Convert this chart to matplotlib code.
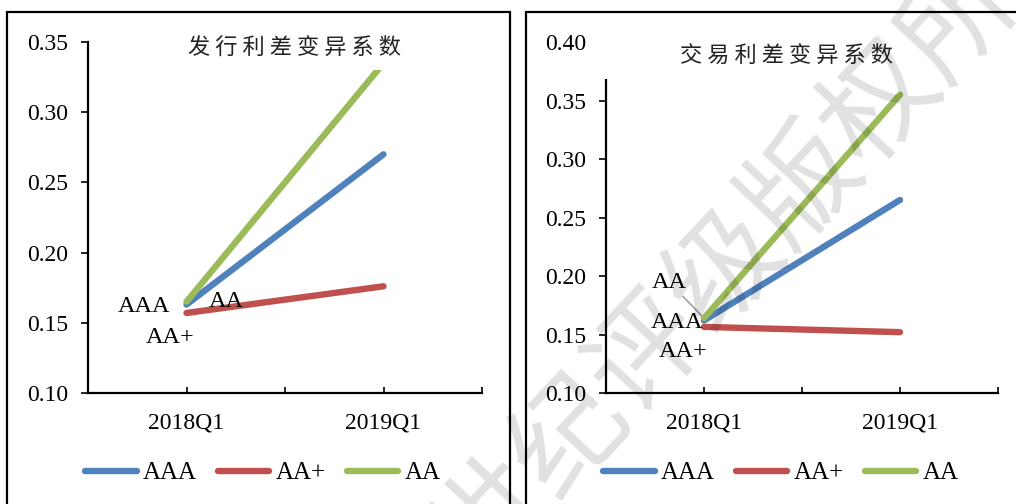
import numpy as np
import matplotlib
matplotlib.use("Agg")
from matplotlib import pyplot as plt
from matplotlib.patches import Rectangle

plt.rcParams["font.family"] = ["Liberation Serif", "Noto Sans CJK SC"]

# data
periods = ["2018Q1", "2019Q1"]
series = ["AAA", "AA+", "AA"]
issue_aaa = [0.163, 0.270]
issue_aaplus = [0.157, 0.176]
issue_aa = [0.165, 0.335]
trade_aaa = [0.162, 0.265]
trade_aaplus = [0.1565, 0.152]
trade_aa = [0.164, 0.355]

colors = ["#4F81BD", "#C0504D", "#9BBB59"]
W, H = 1016, 504


def fx(px):
    return px / W


def fy(py):
    return 1 - py / H


fig = plt.figure(figsize=(W / 100, H / 100), dpi=100)

# panel borders
for x0, x1 in [(7, 510), (526, 1030)]:
    fig.patches.append(Rectangle((fx(x0), fy(520)), fx(x1 - x0), (520 - 12) / H,
                                 transform=fig.transFigure, fill=False,
                                 edgecolor="black", linewidth=1.6, zorder=0))


def draw_panel(left_px, right_px, ymax, values, title, title_xy, box, labels, legend_x):
    ax = fig.add_axes([fx(left_px), fy(393), fx(right_px - left_px), (393 - 42) / H])
    xpos = [1, 3]
    for v, c, name in zip(values, colors, series):
        ax.plot(xpos, v, color=c, lw=4.6, solid_capstyle="round", label=name, zorder=3)
    ax.set_xlim(0, 4)
    ax.set_ylim(0.10, ymax)
    ax.set_yticks(np.arange(0.10, ymax + 0.001, 0.05))
    ax.yaxis.set_major_formatter(matplotlib.ticker.FormatStrFormatter("%.2f"))
    ax.set_xticks([1, 2, 3, 4])
    ax.set_xticklabels([periods[0], "", periods[1], ""])
    for s in ["top", "right"]:
        ax.spines[s].set_visible(False)
    for s in ["left", "bottom"]:
        ax.spines[s].set_linewidth(1.6)
    ax.tick_params(axis="y", direction="out", length=5, width=1.2, pad=9, labelsize=17)
    ax.tick_params(axis="x", direction="in", length=4, width=1.2, pad=14, labelsize=17)
    ax.patch.set_alpha(0)

    # data labels at the first point
    for (name, idx, dx, dy, ha, lead) in labels:
        kw = {}
        if lead:
            kw["arrowprops"] = dict(arrowstyle="-", color="#a0a0a0", lw=1.2,
                                    shrinkA=1, shrinkB=3)
        ax.annotate(name, xy=(1, values[idx][0]), xytext=(dx * 0.72, -dy * 0.72),
                    textcoords="offset points", ha=ha, va="center", fontsize=17.5,
                    zorder=5, **kw)

    # white title box like the excel chart title
    bx0, by0, bx1, by1 = box
    fig.patches.append(Rectangle((fx(bx0), fy(by1)), fx(bx1 - bx0), (by1 - by0) / H,
                                 transform=fig.transFigure, facecolor="white",
                                 edgecolor="none", zorder=5))
    fig.text(fx(title_xy[0]), fy(title_xy[1]), " ".join(title), ha="center", va="center",
             fontsize=16, family=["Noto Sans CJK SC"], weight="light",
             color="#222222", zorder=6)

    leg = fig.legend(*ax.get_legend_handles_labels(), loc="center",
                     bbox_to_anchor=(fx(legend_x), fy(473)), ncol=3, frameon=False,
                     fontsize=18, handlelength=2.05, handletextpad=0.25,
                     columnspacing=0.85)
    for ln in leg.get_lines():
        ln.set_linewidth(4.6)
    return ax


draw_panel(88, 482, 0.35, [issue_aaa, issue_aaplus, issue_aa], "发行利差变异系数",
           (295, 48), (150, 25, 440, 70),
           [("AAA", 0, -16, 2, "right", False),
            ("AA", 2, 40, 0, "center", False),
            ("AA+", 1, -16, 25, "center", False)],
           263)

draw_panel(606, 998, 0.40, [trade_aaa, trade_aaplus, trade_aa], "交易利差变异系数",
           (786, 56), (596, 25, 1000, 79),
           [("AA", 2, -35, -36, "center", True),
            ("AAA", 0, -27, 2, "center", False),
            ("AA+", 1, -21, 25, "center", False)],
           781)

# watermark
fig.text(fx(726), fy(269), "新世纪评级版权所有", rotation=47, ha="center", va="center",
         fontsize=82, family=["Noto Sans CJK SC"], weight="light", color="black",
         alpha=0.12, zorder=10)

fig.savefig("out.png", dpi=100)
